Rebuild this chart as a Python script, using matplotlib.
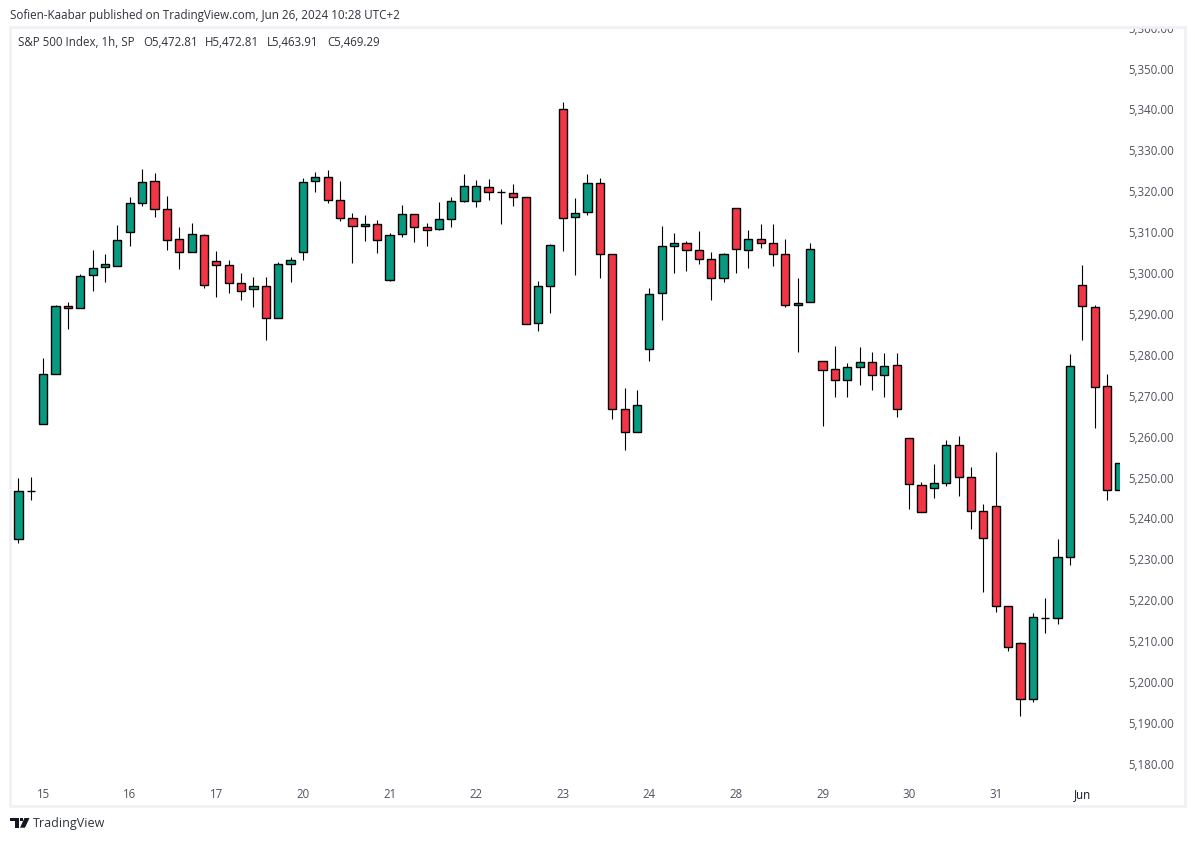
import matplotlib
matplotlib.use('Agg')
import matplotlib.pyplot as plt
from matplotlib.patches import Rectangle, Polygon
from matplotlib.transforms import Bbox

# hourly S&P 500 candles
opens = [5234.9, 5246.6, 5263.1, 5275.3, 5291.9, 5291.4, 5299.4, 5301.4, 5301.8, 5310.0,
         5317.1, 5322.5, 5315.6, 5308.3, 5305.1, 5309.3, 5302.9, 5301.9, 5297.5, 5296.1,
         5296.8, 5289.0, 5302.2, 5305.1, 5322.5, 5323.4, 5317.8, 5313.4, 5311.5, 5312.0,
         5298.3, 5309.5, 5314.4, 5311.2, 5310.7, 5313.2, 5317.6, 5317.6, 5321.0, 5319.9,
         5319.5, 5318.6, 5287.8, 5296.8, 5340.1, 5313.7, 5314.9, 5322.0, 5304.6, 5266.7,
         5261.1, 5281.4, 5295.1, 5306.6, 5307.3, 5305.6, 5303.4, 5298.8, 5315.9, 5305.6,
         5308.3, 5307.3, 5304.6, 5292.2, 5292.9, 5278.5, 5276.5, 5273.8, 5277.0, 5278.2,
         5275.0, 5277.5, 5259.6, 5248.1, 5247.4, 5248.6, 5257.9, 5250.1, 5241.8, 5243.0,
         5218.6, 5209.5, 5195.8, 5215.7, 5215.6, 5230.5, 5297.0, 5291.7, 5272.3, 5246.9]
highs = [5249.9, 5250.2, 5279.3, 5292.2, 5292.9, 5299.7, 5305.7, 5304.7, 5311.8, 5318.6,
         5325.5, 5324.5, 5318.9, 5311.3, 5312.3, 5309.5, 5305.4, 5303.2, 5300.0, 5299.1,
         5299.1, 5302.7, 5304.0, 5323.3, 5324.7, 5325.2, 5322.5, 5314.6, 5314.2, 5313.0,
         5309.8, 5316.7, 5314.4, 5312.2, 5317.4, 5318.6, 5324.3, 5322.8, 5323.0, 5320.5,
         5321.8, 5318.6, 5298.1, 5307.1, 5341.9, 5318.4, 5324.3, 5323.3, 5304.6, 5271.9,
         5271.4, 5296.3, 5311.5, 5309.8, 5307.8, 5310.3, 5305.2, 5304.9, 5315.9, 5310.6,
         5312.0, 5312.0, 5308.3, 5298.8, 5307.3, 5278.5, 5282.2, 5278.0, 5282.0, 5280.7,
         5280.4, 5280.4, 5259.6, 5248.9, 5253.3, 5259.1, 5260.1, 5252.5, 5243.5, 5256.3,
         5218.6, 5209.8, 5216.9, 5220.6, 5234.9, 5280.2, 5302.0, 5292.2, 5275.3, 5253.5]
lows = [5233.9, 5244.6, 5263.1, 5275.3, 5286.2, 5291.4, 5295.7, 5297.9, 5301.6, 5306.5,
        5316.3, 5313.6, 5305.7, 5301.1, 5305.1, 5296.3, 5294.1, 5295.0, 5293.3, 5291.6,
        5283.5, 5289.0, 5297.7, 5303.3, 5319.9, 5317.0, 5312.7, 5302.4, 5307.8, 5304.9,
        5298.0, 5308.9, 5307.7, 5306.7, 5310.5, 5311.2, 5317.3, 5316.1, 5317.8, 5312.1,
        5316.5, 5287.5, 5285.9, 5290.3, 5305.5, 5299.6, 5314.1, 5298.7, 5264.2, 5256.8,
        5261.1, 5278.4, 5288.6, 5300.1, 5300.6, 5302.3, 5293.3, 5297.7, 5299.9, 5301.3,
        5306.2, 5301.8, 5291.8, 5280.8, 5292.9, 5262.7, 5269.6, 5269.6, 5272.7, 5271.3,
        5269.6, 5264.7, 5242.2, 5241.5, 5244.9, 5248.0, 5245.4, 5237.3, 5222.1, 5217.0,
        5207.5, 5191.6, 5195.2, 5212.1, 5214.1, 5228.5, 5283.5, 5262.2, 5244.4, 5246.9]
closes = [5246.7, 5246.8, 5275.3, 5291.9, 5291.4, 5299.3, 5301.2, 5302.2, 5308.0, 5317.1,
          5322.2, 5315.6, 5308.0, 5305.1, 5309.5, 5297.0, 5301.9, 5297.5, 5295.7, 5296.8,
          5289.0, 5302.2, 5303.2, 5322.2, 5323.4, 5317.8, 5313.4, 5311.5, 5312.0, 5308.0,
          5309.3, 5314.4, 5311.2, 5310.5, 5313.2, 5317.6, 5321.2, 5321.2, 5319.8, 5319.8,
          5318.6, 5287.5, 5296.8, 5306.8, 5313.4, 5314.6, 5322.0, 5304.6, 5266.7, 5261.1,
          5267.7, 5294.8, 5306.6, 5307.3, 5305.6, 5303.4, 5298.8, 5304.6, 5305.8, 5308.3,
          5307.3, 5304.6, 5292.2, 5292.6, 5305.8, 5276.3, 5273.8, 5277.0, 5278.2, 5275.0,
          5277.2, 5266.7, 5248.4, 5241.5, 5248.6, 5257.9, 5250.1, 5241.8, 5235.2, 5218.6,
          5208.5, 5195.8, 5215.9, 5215.7, 5230.5, 5277.2, 5291.9, 5272.1, 5247.0, 5253.5]

day_ticks = [2, 9, 16, 23, 30, 37, 44, 51, 58, 65, 72, 79, 86]
day_labels = ['15', '16', '17', '20', '21', '22', '23', '24', '28', '29', '30', '31', 'Jun']
price_ticks = list(range(5180, 5370, 10))

UP = '#089981'
DOWN = '#F23645'
BORDER = '#F0F0F5'
W, H = 1195, 841

plt.rcParams['font.family'] = ['Open Sans', 'DejaVu Sans']


def fx(x):
    return x / W


def fy(y):
    return 1 - y / H


fig = plt.figure(figsize=(W / 100, H / 100), dpi=100)

# chart pane, limits chosen so 5250 sits on pixel row 477.5 at 4.09 px per point
pane_left, pane_right, pane_top, pane_bottom = 11, 1119.5, 20, 778
ax = fig.add_axes([fx(pane_left), fy(pane_bottom), fx(pane_right - pane_left),
                   (pane_bottom - pane_top) / H])
ax.set_xlim(-0.6, (pane_right - 18.5) / 12.37)
ax.set_ylim(5250 + (477.5 - pane_bottom) / 4.09, 5250 + (477.5 - pane_top) / 4.09)
for side in ax.spines.values():
    side.set_visible(False)

for i in range(len(opens)):
    col = UP if closes[i] >= opens[i] else DOWN
    ax.vlines(i, lows[i], highs[i], color='black', lw=0.8, zorder=2)
    bottom = min(opens[i], closes[i])
    ax.add_patch(Rectangle((i - 0.33, bottom), 0.66, abs(closes[i] - opens[i]),
                           facecolor=col, edgecolor='black', lw=1.0, zorder=3))

ax.set_xticks(day_ticks, day_labels)
ax.yaxis.tick_right()
ax.set_yticks(price_ticks, ['{:,.2f}'.format(p) for p in price_ticks])
ax.tick_params(axis='x', length=0, pad=7, labelsize=8.3, labelcolor='#50535E')
ax.tick_params(axis='y', length=0, pad=6, labelsize=8.3, labelcolor='#50535E')
ax.get_xticklabels()[-1].set_color('#131722')

# top price label is cut by the pane border
clip = Bbox([[1120, H - 804], [1184, H - 28]])
for lab in ax.get_yticklabels():
    lab.set_clip_box(clip)
    lab.set_clip_on(True)

# frame round the chart
fig.add_artist(Rectangle((fx(10), fy(805.5)), fx(1175), (805.5 - 27) / H, transform=fig.transFigure,
                         fill=False, edgecolor=BORDER, lw=2))

fig.text(fx(10), fy(16), 'Sofien-Kaabar published on TradingView.com, Jun 26, 2024 10:28 UTC+2',
         fontsize=8.35, color='#30333C', va='center')
fig.text(fx(18), fy(42.5), 'S&P 500 Index, 1h, SP', fontsize=8.3, color='#30333C', va='center')
for x_txt, s in [(143, 'O5,472.81'), (205, 'H5,472.81'), (267, 'L5,463.91'), (327, 'C5,469.29')]:
    fig.text(fx(x_txt), fy(42.5), s, fontsize=8.3, color='#30333C', va='center')

# TradingView mark
logo = '#131722'
for pts in [[(10, 818), (18.7, 818), (18.7, 827.7), (14.5, 827.7), (14.5, 821.3), (10, 821.3)],
            [(24.5, 818), (29.5, 818), (25, 827.7), (20, 827.7)],
            [(20, 818), (23, 818), (23, 821), (20, 821)]]:
    fig.add_artist(Polygon([(fx(a), fy(b)) for a, b in pts], closed=True, transform=fig.transFigure,
                           facecolor=logo, edgecolor='none'))
fig.text(fx(33), fy(824), 'TradingView', fontsize=9, color='#30333C', va='center')

fig.savefig('out.png', dpi=100)
